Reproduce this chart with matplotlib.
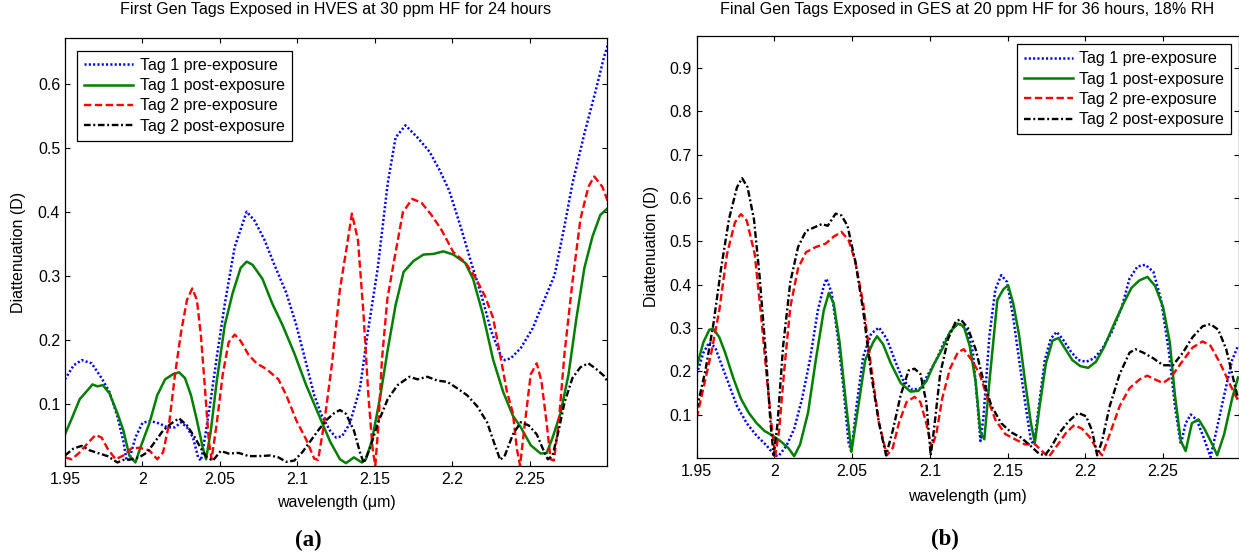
import matplotlib
matplotlib.use("Agg")
import matplotlib.pyplot as plt

plt.rcParams['font.family'] = ['Liberation Sans', 'DejaVu Sans']
plt.rcParams['lines.scale_dashes'] = False

# ---------------- data: panel (a) ----------------
TITLE_A = "First Gen Tags Exposed in HVES at 30 ppm HF for 24 hours"
TITLE_B = "Final Gen Tags Exposed in GES at 20 ppm HF for 36 hours, 18% RH"
LABELS = ["Tag 1 pre-exposure", "Tag 1 post-exposure", "Tag 2 pre-exposure", "Tag 2 post-exposure"]
X_TICKS = [1.95, 2.0, 2.05, 2.1, 2.15, 2.2, 2.25]
X_TICKLABELS = ["1.95", "2", "2.05", "2.1", "2.15", "2.2", "2.25"]
Y_TICKS_A = [0.1, 0.2, 0.3, 0.4, 0.5, 0.6]
Y_TICKLABELS_A = ["0.1", "0.2", "0.3", "0.4", "0.5", "0.6"]
Y_TICKS_B = [0.1, 0.2, 0.3, 0.4, 0.5, 0.6, 0.7, 0.8, 0.9]
Y_TICKLABELS_B = ["0.1", "0.2", "0.3", "0.4", "0.5", "0.6", "0.7", "0.8", "0.9"]

a_t1pre_x = [1.950, 1.9556, 1.9608, 1.9672, 1.9736, 1.9787, 1.9838, 1.9877, 1.9897, 1.9915,
             1.9954, 2.000, 2.0051, 2.0108, 2.0159, 2.021, 2.0249, 2.0287, 2.0326, 2.0359,
             2.0377, 2.0403, 2.0441, 2.048, 2.0531, 2.0595, 2.0672, 2.0723, 2.0787, 2.0851,
             2.0928, 2.0992, 2.1056, 2.1108, 2.1159, 2.121, 2.1249, 2.1287, 2.1338, 2.1403,
             2.1454, 2.1518, 2.1582, 2.1633, 2.1697, 2.1774, 2.1851, 2.1915, 2.1979, 2.2056,
             2.212, 2.2185, 2.2249, 2.2313, 2.2338, 2.2377, 2.2441, 2.2518, 2.2582, 2.2659,
             2.2723, 2.2774, 2.2851, 2.2928, 2.2979, 2.3018]
a_t1pre_y = [0.139, 0.161, 0.169, 0.164, 0.141, 0.119, 0.081, 0.042, 0.012, 0.014,
             0.048, 0.071, 0.074, 0.070, 0.064, 0.064, 0.072, 0.064, 0.048, 0.017,
             0.012, 0.048, 0.108, 0.175, 0.257, 0.346, 0.401, 0.387, 0.357, 0.318,
             0.274, 0.224, 0.164, 0.114, 0.081, 0.059, 0.048, 0.050, 0.070, 0.125,
             0.213, 0.313, 0.445, 0.517, 0.536, 0.517, 0.495, 0.467, 0.434, 0.375,
             0.322, 0.272, 0.215, 0.175, 0.169, 0.172, 0.188, 0.219, 0.257, 0.302,
             0.379, 0.445, 0.523, 0.594, 0.644, 0.673]

a_t1post_x = [1.95, 1.9544, 1.9595, 1.9646, 1.9677, 1.971, 1.9744, 1.9787, 1.9838, 1.9877,
              1.9915, 1.9954, 1.9992, 2.0044, 2.0095, 2.0146, 2.0197, 2.0236, 2.0274, 2.0313,
              2.0351, 2.039, 2.041, 2.0441, 2.0479, 2.0531, 2.0582, 2.0633, 2.0672, 2.071,
              2.0774, 2.0838, 2.0903, 2.0979, 2.1056, 2.1133, 2.121, 2.1274, 2.1313, 2.1364,
              2.1415, 2.1441, 2.1479, 2.1531, 2.1582, 2.1633, 2.1685, 2.1749, 2.1813, 2.1877,
              2.1941, 2.2005, 2.2082, 2.2133, 2.2197, 2.2262, 2.2326, 2.239, 2.2441, 2.2505,
              2.2569, 2.2608, 2.2646, 2.2697, 2.2749, 2.28, 2.2851, 2.2903, 2.2954, 2.3005]
a_t1post_y = [0.053, 0.078, 0.108, 0.122, 0.131, 0.128, 0.130, 0.117, 0.086, 0.059,
              0.020, 0.009, 0.036, 0.070, 0.114, 0.139, 0.147, 0.150, 0.141, 0.114,
              0.075, 0.031, 0.014, 0.059, 0.136, 0.224, 0.274, 0.313, 0.323, 0.318,
              0.296, 0.257, 0.224, 0.180, 0.130, 0.086, 0.042, 0.014, 0.008, 0.017,
              0.009, 0.014, 0.042, 0.108, 0.185, 0.255, 0.307, 0.324, 0.334, 0.335,
              0.339, 0.334, 0.321, 0.296, 0.240, 0.170, 0.120, 0.082, 0.064, 0.036,
              0.023, 0.024, 0.048, 0.086, 0.147, 0.235, 0.313, 0.362, 0.396, 0.407]

a_t2pre_x = [1.95, 1.9544, 1.9595, 1.9646, 1.9697, 1.9736, 1.9774, 1.9826, 1.9877, 1.9928,
             1.9979, 2.0044, 2.0095, 2.0133, 2.0172, 2.021, 2.0249, 2.0287, 2.0321, 2.0351,
             2.0377, 2.0403, 2.0428, 2.0446, 2.0479, 2.0518, 2.0556, 2.0595, 2.0633, 2.0685,
             2.0736, 2.08, 2.0877, 2.0928, 2.0992, 2.1056, 2.1108, 2.1133, 2.1172, 2.1223,
             2.1274, 2.1318, 2.1351, 2.139, 2.1425, 2.1457, 2.1485, 2.1502, 2.152, 2.1545,
             2.158, 2.162, 2.168, 2.174, 2.18, 2.1864, 2.1928, 2.2005, 2.2082, 2.2146,
             2.221, 2.2262, 2.2313, 2.2351, 2.239, 2.2415, 2.2436, 2.2467, 2.2505, 2.2544,
             2.2574, 2.2608, 2.2633, 2.2654, 2.2685, 2.2723, 2.2774, 2.2826, 2.2877, 2.2915,
             2.2967, 2.3018]
a_t2pre_y = [0.017, 0.014, 0.025, 0.039, 0.052, 0.048, 0.031, 0.014, 0.020, 0.031,
             0.032, 0.028, 0.014, 0.025, 0.070, 0.147, 0.213, 0.263, 0.281, 0.263,
             0.207, 0.125, 0.042, 0.014, 0.070, 0.147, 0.197, 0.209, 0.199, 0.177,
             0.164, 0.155, 0.139, 0.114, 0.075, 0.045, 0.015, 0.013, 0.070, 0.164,
             0.280, 0.346, 0.398, 0.357, 0.245, 0.115, 0.030, 0.004, 0.060, 0.170,
             0.265, 0.320, 0.400, 0.421, 0.415, 0.396, 0.373, 0.338, 0.322, 0.299,
             0.269, 0.235, 0.170, 0.120, 0.086, 0.031, 0.004, 0.070, 0.147, 0.164,
             0.136, 0.070, 0.014, 0.012, 0.070, 0.180, 0.291, 0.390, 0.440, 0.456,
             0.440, 0.407]

a_t2post_x = [1.95, 1.9556, 1.9608, 1.9659, 1.9723, 1.9774, 1.9838, 1.9877, 1.9928, 1.9979,
              2.0031, 2.0082, 2.0133, 2.0185, 2.0236, 2.0287, 2.0338, 2.0377, 2.0415, 2.0454,
              2.0505, 2.0556, 2.0621, 2.0685, 2.0749, 2.0826, 2.0877, 2.0928, 2.0979, 2.1031,
              2.1082, 2.1133, 2.1185, 2.1236, 2.1274, 2.1313, 2.1364, 2.1403, 2.1428, 2.1467,
              2.1518, 2.1582, 2.1646, 2.1723, 2.1774, 2.1838, 2.1903, 2.1967, 2.2031, 2.2095,
              2.2159, 2.2223, 2.2274, 2.2308, 2.2338, 2.239, 2.2441, 2.2492, 2.2544, 2.2582,
              2.2615, 2.2646, 2.2685, 2.2723, 2.2774, 2.2826, 2.2877, 2.2928, 2.2979, 2.3018]
a_t2post_y = [0.020, 0.031, 0.035, 0.028, 0.023, 0.019, 0.009, 0.013, 0.014, 0.017,
              0.025, 0.042, 0.059, 0.070, 0.078, 0.067, 0.048, 0.031, 0.017, 0.012,
              0.027, 0.023, 0.024, 0.019, 0.019, 0.020, 0.017, 0.010, 0.012, 0.025,
              0.042, 0.059, 0.075, 0.086, 0.091, 0.085, 0.059, 0.025, 0.008, 0.031,
              0.070, 0.108, 0.130, 0.143, 0.139, 0.143, 0.137, 0.135, 0.125, 0.114,
              0.097, 0.072, 0.036, 0.013, 0.020, 0.053, 0.072, 0.067, 0.053, 0.031,
              0.014, 0.020, 0.059, 0.103, 0.141, 0.158, 0.164, 0.155, 0.144, 0.128]

# ---------------- data: panel (b) ----------------
b_t1pre_x = [1.95, 1.9543, 1.9581, 1.9619, 1.9657, 1.9708, 1.9759, 1.9822, 1.9886, 1.9949,
             2.0, 2.0025, 2.0076, 2.0127, 2.0178, 2.0228, 2.0279, 2.0317, 2.0335, 2.0368,
             2.0406, 2.0444, 2.0477, 2.0495, 2.0528, 2.0571, 2.0622, 2.0673, 2.0723, 2.0774,
             2.0825, 2.0888, 2.0939, 2.099, 2.1041, 2.1091, 2.1155, 2.1193, 2.1239, 2.1277,
             2.1307, 2.1325, 2.1345, 2.1383, 2.1421, 2.1459, 2.1497, 2.1536, 2.1574, 2.1612,
             2.165, 2.167, 2.1701, 2.1739, 2.1777, 2.1815, 2.1853, 2.1904, 2.1954, 2.2005,
             2.2056, 2.2107, 2.217, 2.2234, 2.2284, 2.2335, 2.2386, 2.2437, 2.2487, 2.2538,
             2.2576, 2.2614, 2.2645, 2.2678, 2.2716, 2.2761, 2.2805, 2.2843, 2.2893, 2.2944,
             2.2982]
b_t1pre_y = [0.194, 0.243, 0.267, 0.255, 0.218, 0.169, 0.120, 0.080, 0.051, 0.029,
             0.006, 0.004, 0.027, 0.067, 0.137, 0.226, 0.340, 0.397, 0.414, 0.381,
             0.283, 0.161, 0.035, 0.014, 0.120, 0.234, 0.287, 0.301, 0.275, 0.226,
             0.181, 0.157, 0.161, 0.194, 0.226, 0.267, 0.304, 0.309, 0.296, 0.243,
             0.120, 0.039, 0.096, 0.283, 0.389, 0.422, 0.406, 0.324, 0.226, 0.129,
             0.039, 0.032, 0.120, 0.226, 0.275, 0.291, 0.275, 0.247, 0.226, 0.222,
             0.230, 0.251, 0.291, 0.348, 0.414, 0.442, 0.446, 0.430, 0.365, 0.243,
             0.120, 0.031, 0.080, 0.100, 0.088, 0.047, 0.002, 0.063, 0.145, 0.226,
             0.259]

b_t1post_x = [1.95, 1.9543, 1.9581, 1.9607, 1.9645, 1.9683, 1.9734, 1.9784, 1.9835, 1.9886,
              1.9937, 1.9987, 2.0038, 2.0089, 2.0127, 2.0165, 2.0216, 2.0266, 2.0317, 2.035,
              2.0381, 2.0419, 2.0457, 2.0495, 2.0533, 2.0584, 2.0635, 2.066, 2.0698, 2.0749,
              2.0812, 2.0876, 2.0926, 2.0977, 2.1028, 2.1079, 2.1129, 2.118, 2.1218, 2.1256,
              2.1294, 2.1325, 2.135, 2.1383, 2.1434, 2.1472, 2.1503, 2.1536, 2.1574, 2.1612,
              2.165, 2.1675, 2.1706, 2.1746, 2.1789, 2.1827, 2.1865, 2.1916, 2.1967, 2.2018,
              2.2068, 2.2119, 2.2183, 2.2246, 2.2297, 2.2348, 2.2399, 2.2449, 2.25, 2.2543,
              2.2576, 2.2614, 2.2645, 2.2685, 2.2728, 2.2766, 2.2817, 2.2848, 2.2893, 2.2944,
              2.2982]
b_t1post_y = [0.21, 0.267, 0.296, 0.298, 0.279, 0.243, 0.186, 0.137, 0.104, 0.080,
              0.062, 0.052, 0.039, 0.023, 0.004, 0.031, 0.104, 0.226, 0.340, 0.381,
              0.357, 0.267, 0.137, 0.014, 0.104, 0.226, 0.267, 0.281, 0.263, 0.218,
              0.173, 0.153, 0.155, 0.177, 0.218, 0.251, 0.291, 0.310, 0.304, 0.259,
              0.177, 0.059, 0.043, 0.177, 0.365, 0.389, 0.399, 0.357, 0.283, 0.177,
              0.080, 0.035, 0.120, 0.218, 0.271, 0.277, 0.255, 0.226, 0.212, 0.208,
              0.222, 0.255, 0.308, 0.357, 0.393, 0.410, 0.418, 0.397, 0.348, 0.267,
              0.145, 0.039, 0.016, 0.080, 0.089, 0.067, 0.031, 0.006, 0.055, 0.137,
              0.186]

b_t2pre_x = [1.95, 1.9543, 1.9594, 1.9645, 1.9695, 1.9746, 1.9784, 1.9822, 1.9873, 1.9911,
             1.9949, 1.998, 2.0005, 2.003, 2.0063, 2.0102, 2.0152, 2.0203, 2.0266, 2.033,
             2.0381, 2.0431, 2.0477, 2.052, 2.0571, 2.0622, 2.0673, 2.0723, 2.0761, 2.08,
             2.085, 2.0901, 2.0939, 2.0977, 2.101, 2.1041, 2.1079, 2.1129, 2.118, 2.1218,
             2.1269, 2.132, 2.1371, 2.1421, 2.1485, 2.1548, 2.1612, 2.1675, 2.1726, 2.1764,
             2.1815, 2.1878, 2.1929, 2.198, 2.203, 2.2069, 2.2107, 2.2157, 2.2221, 2.2284,
             2.2348, 2.2398, 2.2449, 2.25, 2.255, 2.2614, 2.269, 2.2754, 2.2805, 2.2868,
             2.2931, 2.2982]
b_t2pre_y = [0.092, 0.161, 0.243, 0.340, 0.471, 0.544, 0.563, 0.548, 0.471, 0.340,
             0.194, 0.080, 0.004, 0.063, 0.202, 0.348, 0.438, 0.475, 0.487, 0.495,
             0.511, 0.522, 0.503, 0.454, 0.357, 0.210, 0.080, 0.006, 0.023, 0.080,
             0.129, 0.141, 0.129, 0.080, 0.023, 0.055, 0.137, 0.206, 0.244, 0.251,
             0.226, 0.194, 0.137, 0.088, 0.055, 0.043, 0.031, 0.032, 0.014, 0.002,
             0.027, 0.059, 0.076, 0.067, 0.047, 0.023, 0.006, 0.055, 0.120, 0.161,
             0.181, 0.190, 0.181, 0.173, 0.186, 0.218, 0.255, 0.269, 0.259, 0.218,
             0.169, 0.133]

b_t2post_x = [1.95, 1.9556, 1.9607, 1.9657, 1.9708, 1.9759, 1.9792, 1.9827, 1.9868, 1.9904,
              1.9944, 1.9975, 1.9995, 2.002, 2.0056, 2.0102, 2.0152, 2.0203, 2.0254, 2.0305,
              2.0343, 2.0393, 2.0431, 2.047, 2.052, 2.0571, 2.0622, 2.0673, 2.0718, 2.0761,
              2.0812, 2.0863, 2.0901, 2.0939, 2.0977, 2.1005, 2.1028, 2.1066, 2.1117, 2.1168,
              2.1198, 2.1244, 2.1294, 2.1345, 2.1396, 2.1459, 2.1523, 2.1586, 2.165, 2.1701,
              2.1739, 2.1777, 2.1827, 2.1891, 2.1954, 2.2005, 2.2043, 2.2076, 2.2107, 2.2157,
              2.2221, 2.2284, 2.2322, 2.2373, 2.2437, 2.25, 2.2563, 2.2627, 2.269, 2.2754,
              2.2805, 2.2855, 2.2906, 2.2944, 2.2982]
b_t2post_y = [0.112, 0.202, 0.308, 0.438, 0.552, 0.625, 0.646, 0.625, 0.552, 0.422,
              0.243, 0.080, 0.006, 0.080, 0.259, 0.406, 0.487, 0.524, 0.532, 0.540,
              0.536, 0.564, 0.560, 0.536, 0.454, 0.340, 0.194, 0.080, 0.006, 0.063,
              0.145, 0.202, 0.206, 0.194, 0.129, 0.006, 0.071, 0.194, 0.275, 0.316,
              0.320, 0.300, 0.251, 0.177, 0.120, 0.080, 0.059, 0.047, 0.027, 0.010,
              0.006, 0.023, 0.055, 0.084, 0.104, 0.096, 0.063, 0.006, 0.039, 0.120,
              0.194, 0.243, 0.251, 0.243, 0.230, 0.214, 0.214, 0.243, 0.279, 0.304,
              0.309, 0.296, 0.251, 0.194, 0.137]

# ---------------- styles ----------------
STYLES = [
    dict(color=(0, 0, 1), lw=1.8, dashes=(1.5, 1.6), dash_capstyle='butt'),
    dict(color=(0.0, 0.5, 0.0), lw=1.8, linestyle='-'),
    dict(color=(1, 0, 0), lw=1.7, dashes=(5.3, 2.5), dash_capstyle='butt'),
    dict(color=(0, 0, 0), lw=1.7, dashes=(4.8, 1.9, 1.4, 1.9), dash_capstyle='butt'),
]

W, H = 1239, 552
fig = plt.figure(figsize=(W / 100, H / 100), dpi=100)
fig.patch.set_facecolor('white')


def axes_px(l, t, r, b):
    return fig.add_axes([l / W, 1 - b / H, (r - l) / W, (b - t) / H])


FS = 11.5


def draw_panel(ax, series, title, xlim, ylim, yticks, yticklabels,
               title_y, xlabel_y, ylabel_x, leg_loc, leg_anchor):
    for (xs, ys), lab, st in zip(series, LABELS, STYLES):
        ax.plot(xs, ys, label=lab, **st)
    ax.set_xlim(*xlim)
    ax.set_ylim(*ylim)
    ax.set_xticks(X_TICKS)
    ax.set_xticklabels(X_TICKLABELS)
    ax.set_yticks(yticks)
    ax.set_yticklabels(yticklabels)
    ax.tick_params(direction='in', top=True, right=True, length=3.5, width=0.8,
                   labelsize=FS, colors='black')
    ax.tick_params(axis='x', pad=4.8)
    ax.tick_params(axis='y', pad=3.5)
    for s in ax.spines.values():
        s.set_linewidth(0.9)
        s.set_color('black')
    ax.set_title(title, fontsize=11.6, y=title_y, va='center')
    ax.set_xlabel("wavelength (\u03bcm)", fontsize=FS)
    ax.xaxis.set_label_coords(0.5, xlabel_y)
    ax.xaxis.label.set_va('center')
    ax.set_ylabel("Diattenuation (D)", fontsize=FS)
    ax.yaxis.set_label_coords(ylabel_x, 0.5)
    ax.yaxis.label.set_va('center')
    leg = ax.legend(loc=leg_loc, bbox_to_anchor=leg_anchor, borderaxespad=0,
                    fontsize=FS, handlelength=3.06, handletextpad=0.4,
                    labelspacing=0.33, borderpad=0.45, fancybox=False,
                    frameon=True, edgecolor='black', framealpha=1)
    leg.get_frame().set_linewidth(0.9)


axA = axes_px(65, 38.3, 607, 465.7)
draw_panel(axA,
           [(a_t1pre_x, a_t1pre_y), (a_t1post_x, a_t1post_y),
            (a_t2pre_x, a_t2pre_y), (a_t2post_x, a_t2post_y)],
           TITLE_A, (1.95, 2.2997), (0.004, 0.672), Y_TICKS_A, Y_TICKLABELS_A,
           1.0475, -0.0866, -0.0856, 'upper left', (0.0227, 0.971))

axB = axes_px(696.7, 35.7, 1238.5, 457.7)
draw_panel(axB,
           [(b_t1pre_x, b_t1pre_y), (b_t1post_x, b_t1post_y),
            (b_t2pre_x, b_t2pre_y), (b_t2post_x, b_t2post_y)],
           TITLE_B, (1.95, 2.2985), (0.0005, 0.975), Y_TICKS_B, Y_TICKLABELS_B,
           1.042, -0.0908, -0.0832, 'upper right', (0.987, 0.980))

fig.text(308 / W, 1 - 540 / H, "(a)", family=['Liberation Serif', 'DejaVu Serif'],
         weight='bold', fontsize=16.5, ha='center', va='center')
fig.text(944.8 / W, 1 - 539.3 / H, "(b)", family=['Liberation Serif', 'DejaVu Serif'],
         weight='bold', fontsize=16.5, ha='center', va='center')

fig.savefig("out.png", dpi=100, facecolor='white')
